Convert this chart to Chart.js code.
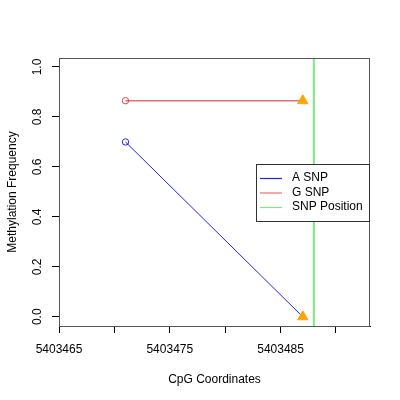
<!DOCTYPE html>
<html>
<head>
<meta charset="utf-8">
<script src="https://cdn.jsdelivr.net/npm/chart.js@4/dist/chart.umd.min.js"></script>
<style>
  html, body { margin: 0; padding: 0; background: #ffffff; }
  #chart { display: block; }
</style>
</head>
<body>
<canvas id="chart" width="400" height="400"></canvas>
<script>
// Chart data
const cpgPositions = [5403471, 5403487];
const aSnpValues = [0.70, 0.0];
const gSnpValues = [0.865, 0.865];
const snpPosition = 5403488;
const xTickLabels = ['5403465', '5403475', '5403485'];
const yTickLabels = ['0.0', '0.2', '0.4', '0.6', '0.8', '1.0'];

const xMin = 5403465, xMax = 5403493.07;
const yMin = -0.037, yMax = 1.036;

const fontFamily = "'Liberation Sans', Arial, sans-serif";

function toPoints(xs, ys) {
  return xs.map((x, i) => ({ x: x, y: ys[i] }));
}

// Box around the plot, plus rotated y tick labels, plus legend
const rStylePlugin = {
  id: 'rStyle',
  afterDraw(chart) {
    const ctx = chart.ctx;
    const a = chart.chartArea;
    ctx.save();
    ctx.strokeStyle = '#555555';
    ctx.lineWidth = 1;
    ctx.strokeRect(a.left + 0.5, a.top + 0.5, a.right - a.left - 1, a.bottom - a.top);

    // y tick labels, R style (rotated)
    const yScale = chart.scales.y;
    ctx.fillStyle = '#000000';
    ctx.font = '12px ' + fontFamily;
    ctx.textAlign = 'center';
    ctx.textBaseline = 'middle';
    yTickLabels.forEach(lbl => {
      const py = yScale.getPixelForValue(parseFloat(lbl));
      ctx.save();
      ctx.translate(38, py);
      ctx.rotate(-Math.PI / 2);
      ctx.fillText(lbl, 0, 0);
      ctx.restore();
    });

    // legend
    const items = chart.data.datasets.map(d => ({ text: d.label, color: d.borderColor }));
    const lx = 256, ly = 164, lw = 113, lh = 57;
    ctx.fillStyle = '#ffffff';
    ctx.fillRect(lx, ly, lw, lh);
    ctx.strokeStyle = '#333333';
    ctx.strokeRect(lx + 0.5, ly + 0.5, lw, lh);
    ctx.textAlign = 'left';
    items.forEach((it, i) => {
      const y = ly + 14 + i * 14.5;
      ctx.strokeStyle = it.color;
      ctx.lineWidth = 1.2;
      ctx.beginPath();
      ctx.moveTo(lx + 4, y + 0.5);
      ctx.lineTo(lx + 26, y + 0.5);
      ctx.stroke();
      ctx.fillStyle = '#000000';
      ctx.fillText(it.text, lx + 36, y);
    });
    ctx.restore();
  }
};

new Chart(document.getElementById('chart'), {
  type: 'scatter',
  data: {
    datasets: [
      {
        label: 'A SNP',
        data: toPoints(cpgPositions, aSnpValues),
        showLine: true,
        borderColor: '#2222ee',
        borderWidth: 1,
        pointStyle: ['circle', 'triangle'],
        pointRadius: [3.2, 6],
        pointBorderColor: ['#2222ee', '#ffa500'],
        pointBackgroundColor: ['rgba(0,0,0,0)', '#ffa500'],
        pointBorderWidth: 1
      },
      {
        label: 'G SNP',
        data: toPoints(cpgPositions, gSnpValues),
        showLine: true,
        borderColor: '#e87070',
        borderWidth: 1.5,
        pointStyle: ['circle', 'triangle'],
        pointRadius: [3.2, 6],
        pointBorderColor: ['#dd4444', '#ffa500'],
        pointBackgroundColor: ['rgba(0,0,0,0)', '#ffa500'],
        pointBorderWidth: 1
      },
      {
        label: 'SNP Position',
        data: [{ x: snpPosition, y: yMin }, { x: snpPosition, y: yMax }],
        showLine: true,
        borderColor: '#80e880',
        borderWidth: 2,
        pointRadius: 0
      }
    ]
  },
  options: {
    responsive: false,
    animation: false,
    layout: { padding: { top: 58, right: 30, left: 0, bottom: 0 } },
    plugins: {
      legend: { display: false },
      tooltip: { enabled: false }
    },
    scales: {
      x: {
        type: 'linear',
        min: xMin,
        max: xMax,
        afterFit(scale) { scale.height = 74; },
        border: { display: true, color: '#000000', width: 1 },
        grid: { drawOnChartArea: false, drawTicks: true, tickLength: 7, color: '#000000' },
        ticks: {
          stepSize: 5,
          includeBounds: false,
          autoSkip: false,
          maxRotation: 0,
          padding: 9,
          color: '#000000',
          font: { family: fontFamily, size: 12 },
          callback: (v) => xTickLabels.includes(String(v)) ? String(v) : ''
        },
        title: {
          display: true,
          text: 'CpG Coordinates',
          color: '#000000',
          font: { family: fontFamily, size: 12 },
          padding: { top: 0, bottom: 13 }
        }
      },
      y: {
        type: 'linear',
        min: yMin,
        max: yMax,
        afterFit(scale) { scale.width = 59; },
        border: { display: true, color: '#555555', width: 1 },
        grid: { drawOnChartArea: false, drawTicks: true, tickLength: 7, color: '#000000' },
        ticks: {
          stepSize: 0.2,
          includeBounds: false,
          display: false
        },
        title: {
          display: true,
          text: 'Methylation Frequency',
          color: '#000000',
          font: { family: fontFamily, size: 12 },
          padding: { top: 5, bottom: 0 }
        }
      }
    }
  },
  plugins: [rStylePlugin]
});
</script>
</body>
</html>
